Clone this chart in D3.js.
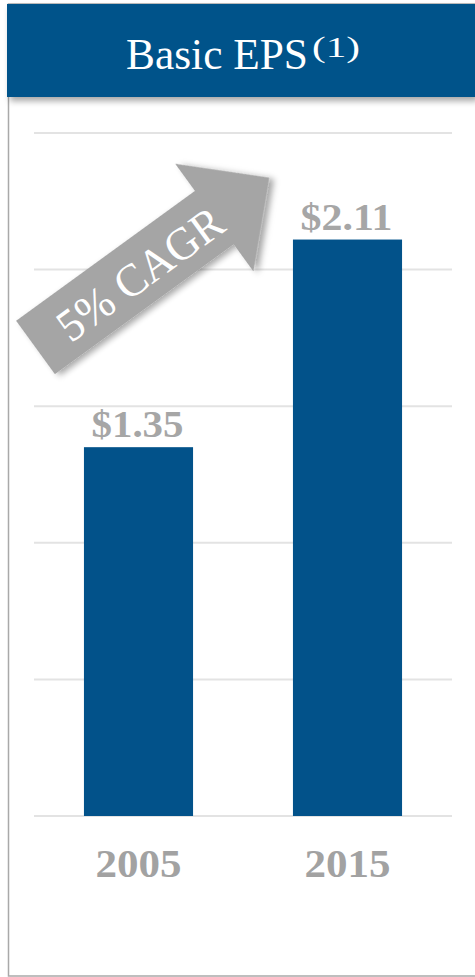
<!DOCTYPE html>
<html>
<head>
<meta charset="utf-8">
<script src="https://cdn.jsdelivr.net/npm/d3@7"></script>
<style>
  body { margin: 0; background: #fff; }
  svg { display: block; }
</style>
</head>
<body>
<div id="chart"></div>
<script>
// data
var years = ["2005", "2015"];
var eps = [1.35, 2.11];
var valueLabels = ["$1.35", "$2.11"];
var gridTicks = [0, 0.5, 1, 1.5, 2, 2.5];
var titleText = "Basic EPS";
var titleNote = "(1)";
var cagrText = "5% CAGR";

var W = 475, H = 977;
var BLUE = "#02528a", GREY = "#a6a6a6";

var svg = d3.select("#chart")
            .append("svg")
            .attr("width", W)
            .attr("height", H);

var defs = svg.append("defs");
var shadow = defs.append("filter")
  .attr("id", "shadow")
  .attr("x", "-20%").attr("y", "-20%")
  .attr("width", "140%").attr("height", "140%");
shadow.append("feDropShadow")
  .attr("dx", 3).attr("dy", 4)
  .attr("stdDeviation", 3)
  .attr("flood-color", "#000")
  .attr("flood-opacity", 0.35);

// panel with grey border on left and bottom
svg.append("rect")
  .attr("x", 8.5)
  .attr("y", 4)
  .attr("width", W)
  .attr("height", 972)
  .attr("fill", "white")
  .attr("stroke", "#a9a9a9")
  .attr("stroke-width", 1.5);

// header bar
svg.append("rect")
  .attr("x", 7)
  .attr("y", 4)
  .attr("width", W - 7)
  .attr("height", 93)
  .attr("fill", BLUE)
  .attr("filter", "url(#shadow)");

svg.append("text")
  .attr("x", 126)
  .attr("y", 69)
  .attr("fill", "white")
  .attr("font-family", "'Liberation Serif', serif")
  .attr("font-size", 45)
  .attr("textLength", 182)
  .attr("lengthAdjust", "spacingAndGlyphs")
  .text(titleText);
// superscript note
svg.append("text")
  .attr("x", 312)
  .attr("y", 57)
  .attr("fill", "white")
  .attr("font-family", "'Liberation Serif', serif")
  .attr("font-size", 30)
  .attr("textLength", 48)
  .attr("lengthAdjust", "spacingAndGlyphs")
  .text(titleNote);

// scales
var x = d3.scaleBand()
  .domain(years)
  .range([34, 452])
  .paddingInner(0.478)
  .paddingOuter(0.239);

var y = d3.scaleLinear()
  .domain([0, 2.5])
  .range([816, 133]);

// gridlines
svg.append("g")
  .selectAll("line")
  .data(gridTicks)
  .join("line")
  .attr("x1", 34)
  .attr("x2", 452)
  .attr("y1", d => y(d))
  .attr("y2", d => y(d))
  .attr("stroke", "#e3e3e3")
  .attr("stroke-width", 2);

// bars
svg.append("g")
  .selectAll("rect")
  .data(eps)
  .join("rect")
  .attr("x", (d, i) => x(years[i]))
  .attr("y", d => y(d))
  .attr("width", x.bandwidth())
  .attr("height", d => y(0) - y(d))
  .attr("fill", BLUE);

// value labels above bars
svg.append("g")
  .selectAll("text")
  .data(eps)
  .join("text")
  .attr("x", (d, i) => x(years[i]) + x.bandwidth() / 2 - 47)
  .attr("y", d => y(d) - 10)
  .attr("fill", GREY)
  .attr("font-family", "'Liberation Serif', serif")
  .attr("font-weight", "bold")
  .attr("font-size", 37)
  .attr("textLength", 92)
  .attr("lengthAdjust", "spacingAndGlyphs")
  .text((d, i) => valueLabels[i]);

// year labels
svg.append("g")
  .selectAll("text")
  .data(years)
  .join("text")
  .attr("x", d => x(d) + x.bandwidth() / 2 - 43)
  .attr("y", 877)
  .attr("fill", "#a2a2a2")
  .attr("font-family", "'Liberation Serif', serif")
  .attr("font-weight", "bold")
  .attr("font-size", 40)
  .attr("textLength", 86)
  .attr("lengthAdjust", "spacingAndGlyphs")
  .text(d => d);

// CAGR arrow
var arrow = svg.append("g")
  .attr("transform", "translate(35.5,347.5) rotate(-36)");
var pts = [[0, -33], [221, -33], [221, -66.5], [289, 0], [221, 66.5], [221, 33], [0, 33]];
arrow.append("path")
  .attr("d", d3.line()(pts) + "Z")
  .attr("fill", "#a5a5a5")
  .attr("filter", "url(#shadow)");
arrow.append("text")
  .attr("x", 128 - 97)
  .attr("y", 2)
  .attr("dominant-baseline", "central")
  .attr("fill", "white")
  .attr("font-family", "'Liberation Serif', serif")
  .attr("font-size", 46)
  .attr("textLength", 194)
  .attr("lengthAdjust", "spacingAndGlyphs")
  .text(cagrText);
</script>
</body>
</html>
